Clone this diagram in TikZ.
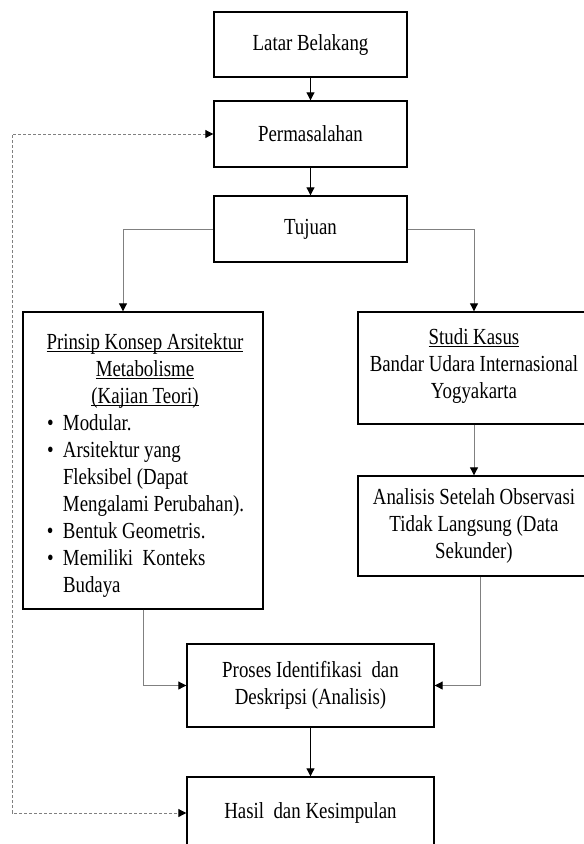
\documentclass[tikz,border=0pt]{standalone}
\usepackage{fontspec}
\setmainfont{Liberation Serif}[FakeStretch=0.82]
\usetikzlibrary{arrows.meta}
\newcommand\myul[1]{\leavevmode\setbox0\hbox{#1}\rlap{\rule[-2.6pt]{\wd0}{0.9pt}}\box0}
\begin{document}
\begin{tikzpicture}[x=1pt,y=-1pt,
  box/.style={draw=black, line width=1.4pt, fill=white, align=center, inner sep=0pt,
    font=\fontsize{23}{27}\selectfont},
  txt/.style={inner sep=0pt, font=\fontsize{23}{27}\selectfont},
  conn/.style={draw=black!50, line width=1pt, -{Triangle[length=8pt,width=8pt,color=black]}},
  darkconn/.style={draw=black, line width=1pt, -{Triangle[length=8pt,width=8pt,color=black]}},
  loopconn/.style={draw=black!50, line width=1pt, dash pattern=on 3pt off 2pt,
    {Triangle[length=8pt,width=8pt,color=black]}-{Triangle[length=8pt,width=8pt,color=black]}}]
\clip (0,0) rectangle (584,844);
\fill[white] (0,0) rectangle (584,844);

\node[box, minimum width=193pt, minimum height=65pt] (latar) at (310.5,44.5) {Latar Belakang};
\node[box, minimum width=193pt, minimum height=66pt] (perm) at (310.5,134) {Permasalahan};
\node[box, minimum width=193pt, minimum height=66pt] (tujuan) at (310.5,229) {Tujuan};

\node[box, minimum width=240pt, minimum height=297pt] (teori) at (143,460.5) {};
\node[txt, anchor=north] (teoritext) at (145,333) {\begin{minipage}{210pt}\fontsize{23}{27}\selectfont
\centering
\myul{Prinsip Konsep Arsitektur}\\
\myul{Metabolisme}\\
\myul{(Kajian Teori)}\par
\raggedright
\hspace*{7pt}\makebox[16pt][l]{\textbullet}Modular.\\
\hspace*{7pt}\makebox[16pt][l]{\textbullet}Arsitektur yang\\
\hspace*{23pt}Fleksibel (Dapat\\
\hspace*{23pt}Mengalami Perubahan).\\
\hspace*{7pt}\makebox[16pt][l]{\textbullet}Bentuk Geometris.\\
\hspace*{7pt}\makebox[16pt][l]{\textbullet}Memiliki\ \ Konteks\\
\hspace*{23pt}Budaya\par
\end{minipage}};

\node[box, minimum width=232pt, minimum height=112pt] (studi) at (474,368) {};
\node[txt, align=center] (studitext) at (474,366) {\myul{Studi Kasus}\\Bandar Udara Internasional\\Yogyakarta};
\node[box, minimum width=232pt, minimum height=100pt] (analisis) at (474,526) {Analisis Setelah Observasi\\Tidak Langsung (Data\\Sekunder)};

\node[box, minimum width=247pt, minimum height=83pt] (proses) at (310.5,685.5) {Proses Identifikasi\ \ dan\\Deskripsi (Analisis)};
\node[box, minimum width=247pt, minimum height=72pt] (hasil) at (310.5,813) {Hasil\ \ dan Kesimpulan};

\draw[darkconn] (latar.south) -- (perm.north);
\draw[darkconn] (perm.south) -- (tujuan.north);
\draw[conn] (tujuan.west) -| ([xshift=-20pt]teori.north);
\draw[conn] (tujuan.east) -| (studi.north);
\draw[conn] (studi.south) -- (analisis.north);
\draw[conn] (teori.south) |- (proses.west);
\draw[conn] ([xshift=6pt]analisis.south) |- (proses.east);
\draw[darkconn] (proses.south) -- (hasil.north);
\coordinate (loop) at (12,470);
\draw[loopconn] (perm.west) -| (loop) |- (hasil.west);
\end{tikzpicture}
\end{document}
